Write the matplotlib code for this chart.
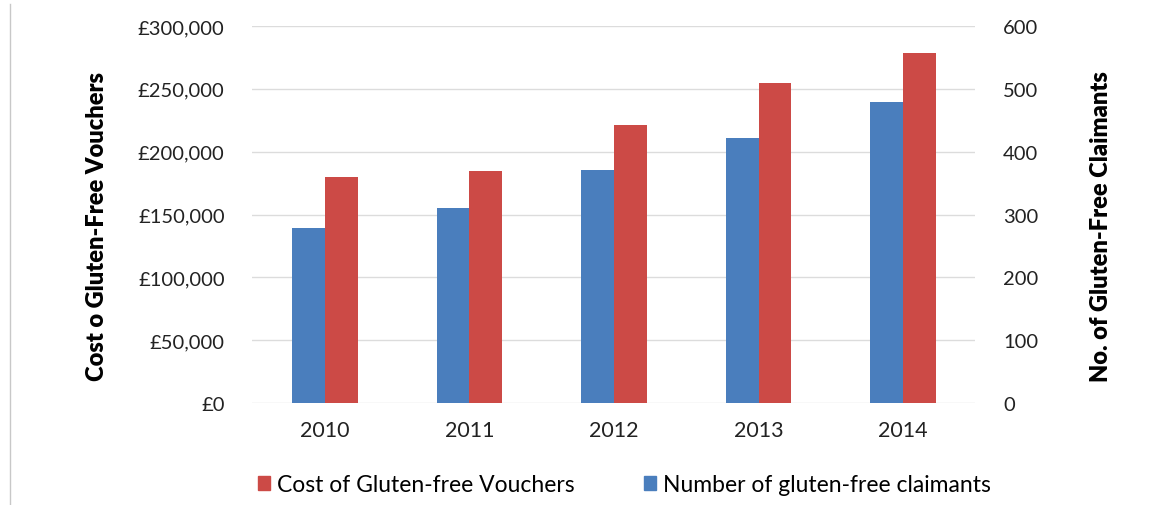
import matplotlib.pyplot as plt
import matplotlib.ticker as mticker
from matplotlib.lines import Line2D
from matplotlib.patches import Patch
import numpy as np

plt.rcParams['font.family'] = ['Lato', 'DejaVu Sans']

years = ['2010', '2011', '2012', '2013', '2014']
claimants = [279, 310, 371, 422, 479]
cost = [180000, 185000, 221000, 255000, 278500]

blue = '#4a7ebd'
red = '#cc4a46'

fig = plt.figure(figsize=(11.65, 5.06), dpi=100)
ax = fig.add_axes([0.2167, 0.2016, 0.6206, 0.745])
ax2 = ax.twinx()

x = np.arange(len(years))
w = 0.227

# blue bars on the right axis, red ones on the left
ax2.bar(x - w / 2, claimants, width=w, color=blue, zorder=3)
ax.bar(x + w / 2, cost, width=w, color=red, zorder=3)
ax.set_zorder(ax2.get_zorder() + 1)
ax.patch.set_visible(False)

ax.set_xlim(-0.5, len(years) - 0.5)
ax.set_ylim(0, 300000)
ax2.set_ylim(0, 600)
ax.set_yticks(np.arange(0, 300001, 50000))
ax2.set_yticks(np.arange(0, 601, 100))
ax.yaxis.set_major_formatter(mticker.FuncFormatter(lambda v, p: '£{:,.0f}'.format(v)))
ax.set_xticks(x)
ax.set_xticklabels(years)

ax2.grid(axis='y', color='#dcdcdc', linewidth=1, zorder=0)
ax2.set_axisbelow(True)

for a in (ax, ax2):
    for s in a.spines.values():
        s.set_visible(False)
    a.tick_params(length=0, labelsize=14.5, colors='#222222')
ax.tick_params(axis='y', pad=20)
ax.tick_params(axis='x', pad=12, labelsize=15.5)
ax2.tick_params(axis='y', pad=20)

ax.set_ylabel('Cost o Gluten-Free Vouchers', fontsize=17, fontweight='heavy')
ax2.set_ylabel('No. of Gluten-Free Claimants', fontsize=17, fontweight='heavy')
ax.yaxis.set_label_coords(-0.200, 0.47)
ax2.yaxis.set_label_coords(1.158, 0.47)

handles = [Patch(color=red), Patch(color=blue)]
fig.legend(handles, ['Cost of Gluten-free Vouchers', 'Number of gluten-free claimants'],
           loc='center', bbox_to_anchor=(0.536, 0.04), ncol=2, frameon=False,
           fontsize=16.5, handlelength=0.55, handleheight=0.55, handletextpad=0.3,
           columnspacing=3.0)

fig.add_artist(Line2D([0.009, 0.009], [0.0, 0.99], color='#c8c8c8', linewidth=1))

fig.savefig('out.png', dpi=100)
